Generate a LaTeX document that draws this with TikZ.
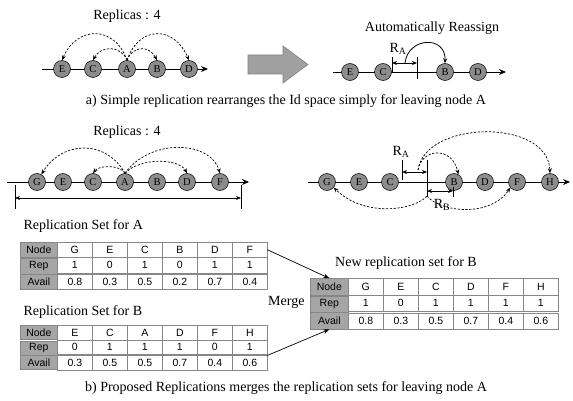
\documentclass[tikz,border=0pt]{standalone}
\usepackage{fontspec}
\setmainfont{Liberation Serif}
\setsansfont{Liberation Sans}
\usetikzlibrary{arrows.meta,matrix}
\definecolor{nodegray}{RGB}{140,140,140}
\definecolor{hgray}{RGB}{165,165,165}
\definecolor{tgray}{RGB}{135,135,135}
\definecolor{bigarrow}{RGB}{160,160,160}
\begin{document}
\begin{tikzpicture}[x=1pt,y=-1pt,
  pt/.style={circle,draw=black,line width=0.5pt,fill=nodegray,minimum size=17pt,inner sep=0pt,font=\fontsize{10.5}{10.5}\selectfont},
  axis/.style={line width=0.8pt,-{Stealth[length=7pt,width=6pt]}},
  darc/.style={line width=0.7pt,dash pattern=on 2.2pt off 1.6pt,-{Stealth[length=5pt,width=4pt]}},
  sarc/.style={line width=0.8pt,-{Stealth[length=5pt,width=4pt]}},
  dim/.style={line width=0.8pt,{Stealth[length=5pt,width=4pt]}-{Stealth[length=5pt,width=4pt]}},
  tick/.style={line width=0.6pt},
  txt/.style={font=\fontsize{14}{15}\selectfont},
  cell/.style={draw=tgray,line width=0.6pt,minimum width=35pt,inner sep=0pt,outer sep=0pt,font=\sffamily\fontsize{10.5}{10.5}\selectfont},
  hcell/.style={fill=hgray},
  tabl/.style={matrix of nodes,anchor=north west,inner sep=0pt,outer sep=0pt,column sep=-0.6pt,row sep=-0.6pt},
  merge/.style={line width=0.7pt,-{Stealth[length=6pt,width=4.5pt]}}
]
\useasboundingbox (0,0) rectangle (573,401);

% ---------- a) left
\node[txt] (titleA1) at (127,16) {Replicas : 4};
\draw[axis] (42,69) -- (208,69);
\foreach \n/\x in {E/62,C/93,A/127,B/157,D/189}
  \node[pt] (a\n) at (\x,69) {\n};
\draw[darc] (aA.north) .. controls +(-12,-35) and +(15,-35) .. (aE.north);
\draw[darc] (aA.north) .. controls +(-6,-15) and +(8,-15) .. (aC.north);
\draw[darc] (aA.north) .. controls +(6,-15) and +(-8,-15) .. (aB.north);
\draw[darc] (aA.north) .. controls +(12,-35) and +(-15,-35) .. (aD.north);

% big arrow
\draw[fill=bigarrow,draw=gray,line width=0.6pt] (248,55) -- (283,55) -- (283,46) -- (308,64.5) -- (283,83) -- (283,74) -- (248,74) -- cycle;

% ---------- a) right
\node[txt] (titleA2) at (432,28) {Automatically Reassign};
\draw[axis] (333,72) -- (506,72);
\foreach \n/\x in {E/350,C/383,B/445,D/478}
  \node[pt] (r\n) at (\x,72) {\n};
\coordinate (ra1) at (392,63);
\coordinate (ra2) at (417,63);
\draw[tick] (392,57) -- (392,72);
\draw[tick] (417,57) -- (417,79);
\draw[dim] (ra1) -- (ra2);
\node[txt] (RA1) at (398,49) {R\textsubscript{A}};
\coordinate (rs) at (405,63);
\draw[sarc] (rs) .. controls (408,37) and (446,35) .. (rB.north);

\node[txt] (capA) at (286,101) {a) Simple replication rearranges the Id space simply for leaving node A};

% ---------- b) left
\node[txt] (titleB1) at (127,132) {Replicas : 4};
\draw[axis] (7,182) -- (249,182);
\foreach \n/\x in {G/37,E/63,C/93,A/125,B/157,D/187,F/220}
  \node[pt] (b\n) at (\x,182) {\n};
\draw[darc] (bA.north) .. controls +(-20,-35) and +(20,-33) .. (bG.60);
\draw[darc] (bA.north) .. controls +(-6,-9) and +(6,-8) .. (bC.north);
\draw[darc] (bA.north) .. controls +(15,-16) and +(-8,-15) .. (bD.north);
\draw[darc] (bA.north) .. controls +(25,-35) and +(-10,-33) .. (bF.north);
\coordinate (br1) at (15,198);
\coordinate (br2) at (241,198);
\draw[tick] (15,185) -- (15,209);
\draw[tick] (241,185) -- (241,209);
\draw[dim] (br1) -- (br2);

% ---------- b) right
\draw[axis] (308,182) -- (570,182);
\foreach \n/\x in {G/327,E/359,C/390,B/454,D/485,F/517,H/550}
  \node[pt] (c\n) at (\x,182) {\n};
\draw[tick] (402,160) -- (402,180);
\draw[tick] (427,160) -- (427,197);
\draw[tick] (453,187) -- (453,197);
\coordinate (ca1) at (402,172);
\coordinate (ca2) at (427,172);
\coordinate (cb1) at (427,191);
\coordinate (cb2) at (453,191);
\draw[dim] (ca1) -- (ca2);
\draw[dim] (cb1) -- (cb2);
\node[txt] (RA2) at (401,152) {R\textsubscript{A}};
\node[txt] (RB2) at (442,205) {R\textsubscript{B}};
\coordinate (cs) at (418,170);
\draw[darc] (cs) .. controls (422,148) and (452,146) .. (cB.60);
\draw[darc] (cs) .. controls (425,120) and (548,118) .. (cH.north);
\coordinate (cl) at (427,196);
\draw[darc] (cl) .. controls (415,210) and (365,218) .. (cG.-40);
\draw[darc] (cl) .. controls (440,212) and (490,218) .. (cF.-140);

% ---------- tables
\node[txt,anchor=west] (tAt) at (20,226) {Replication Set for A};
\matrix (tA) [tabl,nodes={cell,minimum height=15.5pt},column 1/.style={nodes={hcell,minimum width=37pt}}] at (20,241.5) {
Node & G & E & C & B & D & F \\
Rep & 1 & 0 & 1 & 0 & 1 & 1 \\
Avail & 0.8 & 0.3 & 0.5 & 0.2 & 0.7 & 0.4 \\
};

\node[txt,anchor=west] (tBt) at (20,312) {Replication Set for B};
\matrix (tB) [tabl,nodes={cell,minimum height=14.4pt},column 1/.style={nodes={hcell,minimum width=37pt}}] at (20,325) {
Node & E & C & A & D & F & H \\
Rep & 0 & 1 & 1 & 1 & 0 & 1 \\
Avail & 0.3 & 0.5 & 0.5 & 0.7 & 0.4 & 0.6 \\
};

\node[txt] (tNt) at (406,263) {New replication set for B};
\matrix (tN) [tabl,nodes={cell,minimum height=16.6pt},column 1/.style={nodes={hcell,minimum width=38pt}}] at (310,278) {
Node & G & E & C & D & F & H \\
Rep & 1 & 0 & 1 & 1 & 1 & 1 \\
Avail & 0.8 & 0.3 & 0.5 & 0.7 & 0.4 & 0.6 \\
};

\node[txt,anchor=east] (mg) at (308,302) {Merge};
\draw[merge] (tA-1-7.east) -- (tN-1-1.north);
\draw[merge] (tB-3-7.north east) -- (tN-3-1.south);

\node[txt] (capB) at (286,388) {b) Proposed Replications merges the replication sets for leaving node A};
\end{tikzpicture}
\end{document}
